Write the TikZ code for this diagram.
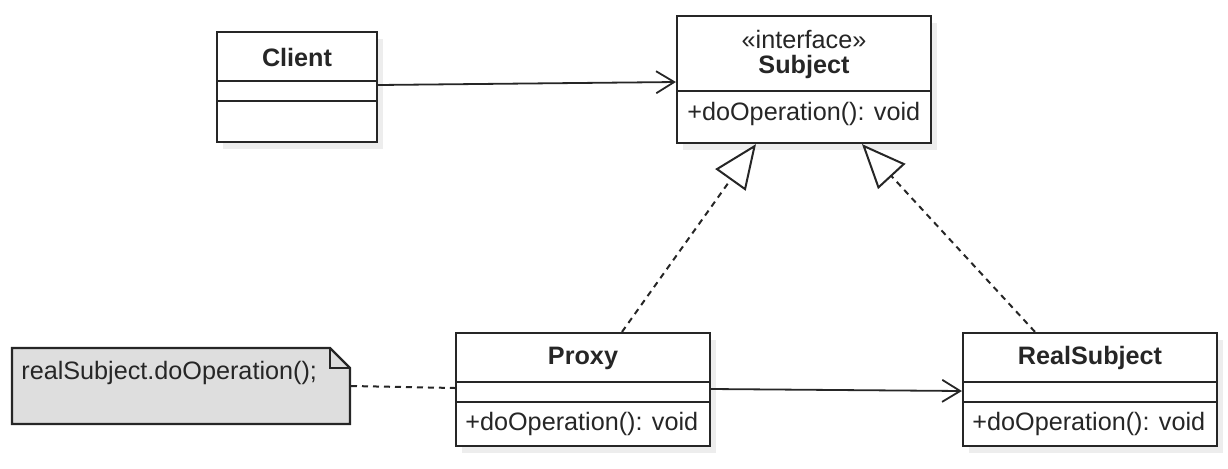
\documentclass[tikz,border=0pt]{standalone}
\usepackage{fontspec}
\setmainfont{Liberation Sans}
\usetikzlibrary{arrows.meta,shadows}
\begin{document}
\begin{tikzpicture}[x=0.5pt,y=-0.5pt,
  every node/.style={font=\fontsize{12.6}{15}\selectfont,text=black!85,inner sep=0pt},
  umlbox/.style={draw=black!85,line width=1.1pt,fill=white,rectangle,
    drop shadow={shadow xshift=3pt,shadow yshift=-3.5pt,fill=black!7,opacity=1}},
  divider/.style={draw=black!85,line width=1.1pt},
  assoc/.style={draw=black!85,line width=0.9pt,-{Straight Barb[length=9pt,width=11pt,line width=0.9pt]}},
  realize/.style={draw=black!85,line width=1pt,dash pattern=on 3pt off 2.5pt,
    -{Triangle[open,length=22pt,width=18.5pt,line width=1pt,fill=white]}},
  notelink/.style={draw=black!85,line width=1pt,dash pattern=on 3pt off 2.5pt},
  titletext/.style={font=\fontsize{12.6}{15}\selectfont\bfseries},
  optext/.style={anchor=west}
]
\useasboundingbox (0,0) rectangle (1228,468);

% Client
\node[umlbox,minimum width=80pt,minimum height=55pt] (client) at (297,87) {};
\draw[divider] (217,81) -- (377,81);
\draw[divider] (217,101) -- (377,101);
\node[titletext] (clientT) at (297,57) {Client};

% Subject
\node[umlbox,minimum width=127pt,minimum height=63.5pt] (subject) at (804,79.5) {};
\draw[divider] (677,91) -- (931,91);
\node (subjS) at (804,39) {«interface»};
\node[titletext] (subjT) at (804,67) {Subject};
\node[optext] (subjO) at (687,114) {+doOperation(): void};

% Proxy
\node[umlbox,minimum width=127pt,minimum height=56.5pt] (proxy) at (583,389.5) {};
\draw[divider] (456,382) -- (710,382);
\draw[divider] (456,402) -- (710,402);
\node[titletext] (proxyT) at (583,358) {Proxy};
\node[optext] (proxyO) at (465,424) {+doOperation(): void};

% RealSubject
\node[umlbox,minimum width=127pt,minimum height=56.5pt] (real) at (1090,389.5) {};
\draw[divider] (963,382) -- (1217,382);
\draw[divider] (963,402) -- (1217,402);
\node[titletext] (realT) at (1090,358) {RealSubject};
\node[optext] (realO) at (972,424) {+doOperation(): void};

% Note
\draw[draw=black!85,line width=1.1pt,fill=black!13]
  (12,348) -- (330,348) -- (350,368) -- (350,424) -- (12,424) -- cycle;
\draw[draw=black!85,line width=1.1pt] (330,348) -- (330,368) -- (350,368);
\node[anchor=west] (note) at (21,373) {realSubject.doOperation();};
\coordinate (noteR) at (351,386);

% connectors
\draw[assoc] (client.east |- 0,85) -- (subject.west |- 0,82);
\draw[assoc] (proxy.east |- 0,389) -- (real.west |- 0,391);
\draw[realize] (proxy.north -| 622,0) -- (subject.south -| 756,0);
\draw[realize] (real.north -| 1035,0) -- (subject.south -| 862,0);
\draw[notelink] (noteR) -- (proxy.west |- 0,388);
\end{tikzpicture}
\end{document}
